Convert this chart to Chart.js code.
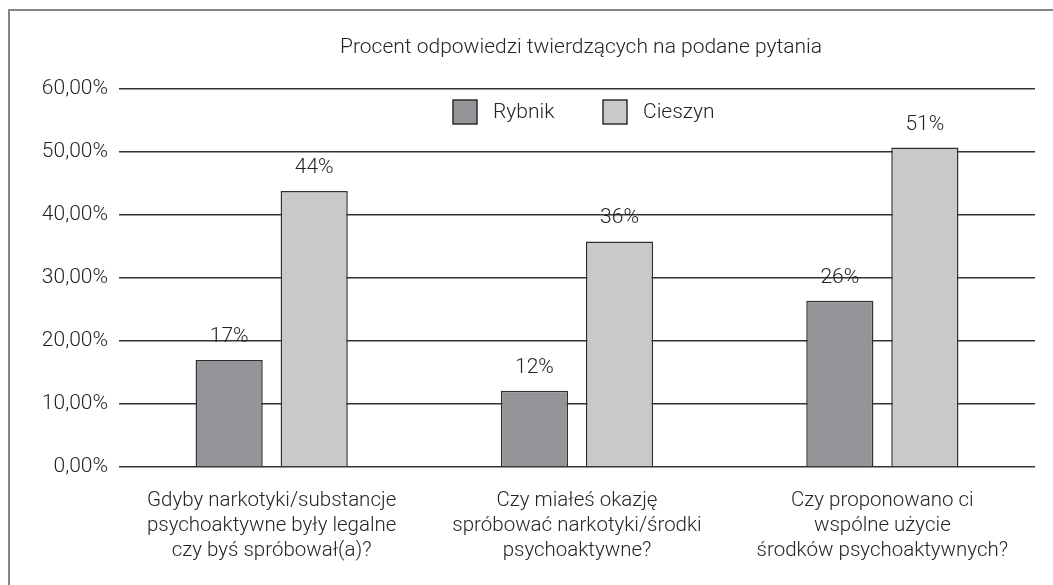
<!DOCTYPE html>
<html>
<head>
<meta charset="utf-8">
<script src="https://cdn.jsdelivr.net/npm/chart.js@4"></script>
<style>
  html, body { margin: 0; padding: 0; background: #fff; }
  #wrap { position: relative; width: 1053px; height: 585px; }
  #frame { position: absolute; left: 8px; top: 9px; width: 1100px; height: 700px;
           border-left: 2px solid #858585; border-top: 2px solid #858585; pointer-events: none; }
</style>
</head>
<body>
<div id="wrap">
  <canvas id="c" width="1053" height="585"></canvas>
  <div id="frame"></div>
</div>
<script>
const titleText = "Procent odpowiedzi twierdzących na podane pytania";
const categories = [
  ["Gdyby narkotyki/substancje", "psychoaktywne były legalne", "czy byś spróbował(a)?"],
  ["Czy miałeś okazję", "spróbować narkotyki/środki", "psychoaktywne?"],
  ["Czy proponowano ci", "wspólne użycie", "środków psychoaktywnych?"]
];
const seriesNames = ["Rybnik", "Cieszyn"];
const rybnik = [17.0, 12.1, 26.4];
const cieszyn = [43.8, 35.8, 50.7];
const yTicks = [0, 10, 20, 30, 40, 50, 60];

const FONT = "Roboto, 'Liberation Sans', Arial, sans-serif";
const TEXT = "#252525";

const overlay = {
  id: 'overlay',
  afterDatasetsDraw(chart) {
    const ctx = chart.ctx, ca = chart.chartArea;
    ctx.save();
    // data labels
    ctx.font = "300 21px " + FONT;
    ctx.fillStyle = TEXT;
    ctx.textAlign = 'center';
    ctx.textBaseline = 'alphabetic';
    chart.data.datasets.forEach((ds, di) => {
      chart.getDatasetMeta(di).data.forEach((bar, i) => {
        ctx.fillText(Math.round(ds.data[i]) + '%', bar.x, bar.y - 18);
      });
    });
    // title
    const cx = (ca.left + ca.right) / 2;
    ctx.textBaseline = 'middle';
    ctx.fillText(titleText, cx + 4, 48);
    // legend
    const box = 24, gapText = 16;
    const offsets = [-124, 26];
    const ly = 112;
    chart.data.datasets.forEach((ds, di) => {
      const x = cx + offsets[di];
      ctx.fillStyle = ds.backgroundColor;
      ctx.fillRect(x, ly - box / 2, box, box);
      ctx.strokeStyle = ds.borderColor;
      ctx.lineWidth = 1.5;
      ctx.strokeRect(x, ly - box / 2, box, box);
      ctx.fillStyle = TEXT;
      ctx.textAlign = 'left';
      ctx.fillText(ds.label, x + box + gapText, ly + 1);
    });
    ctx.restore();
  }
};

new Chart(document.getElementById('c'), {
  type: 'bar',
  data: {
    labels: categories,
    datasets: [
      { label: seriesNames[0], data: rybnik, backgroundColor: '#949598', borderColor: '#2e2e2e', borderWidth: 1.5,
        barPercentage: 0.79, categoryPercentage: 0.557 },
      { label: seriesNames[1], data: cieszyn, backgroundColor: '#c8c9cb', borderColor: '#2e2e2e', borderWidth: 1.5,
        barPercentage: 0.79, categoryPercentage: 0.557 }
    ]
  },
  options: {
    responsive: false,
    animation: false,
    devicePixelRatio: 1,
    layout: { padding: { top: 89, right: 18, left: 0, bottom: 0 } },
    plugins: { legend: { display: false }, title: { display: false }, tooltip: { enabled: false } },
    scales: {
      x: {
        grid: { display: false },
        border: { display: false },
        ticks: { color: TEXT, font: { family: FONT, size: 20.5, weight: '300', lineHeight: 25 / 20.5 }, padding: 13, maxRotation: 0, autoSkip: false },
        afterFit(scale) { scale.height = 118; }
      },
      y: {
        min: 0, max: 60,
        afterBuildTicks(scale) { scale.ticks = yTicks.map(v => ({ value: v })); },
        grid: { color: '#333', lineWidth: 1.5, drawTicks: false },
        border: { display: false },
        ticks: {
          color: TEXT, font: { family: FONT, size: 21, weight: '300' }, padding: 11,
          callback: v => v.toFixed(2).replace('.', ',') + '%'
        },
        afterFit(scale) { scale.width = 119; }
      }
    }
  },
  plugins: [overlay]
});
</script>
</body>
</html>
